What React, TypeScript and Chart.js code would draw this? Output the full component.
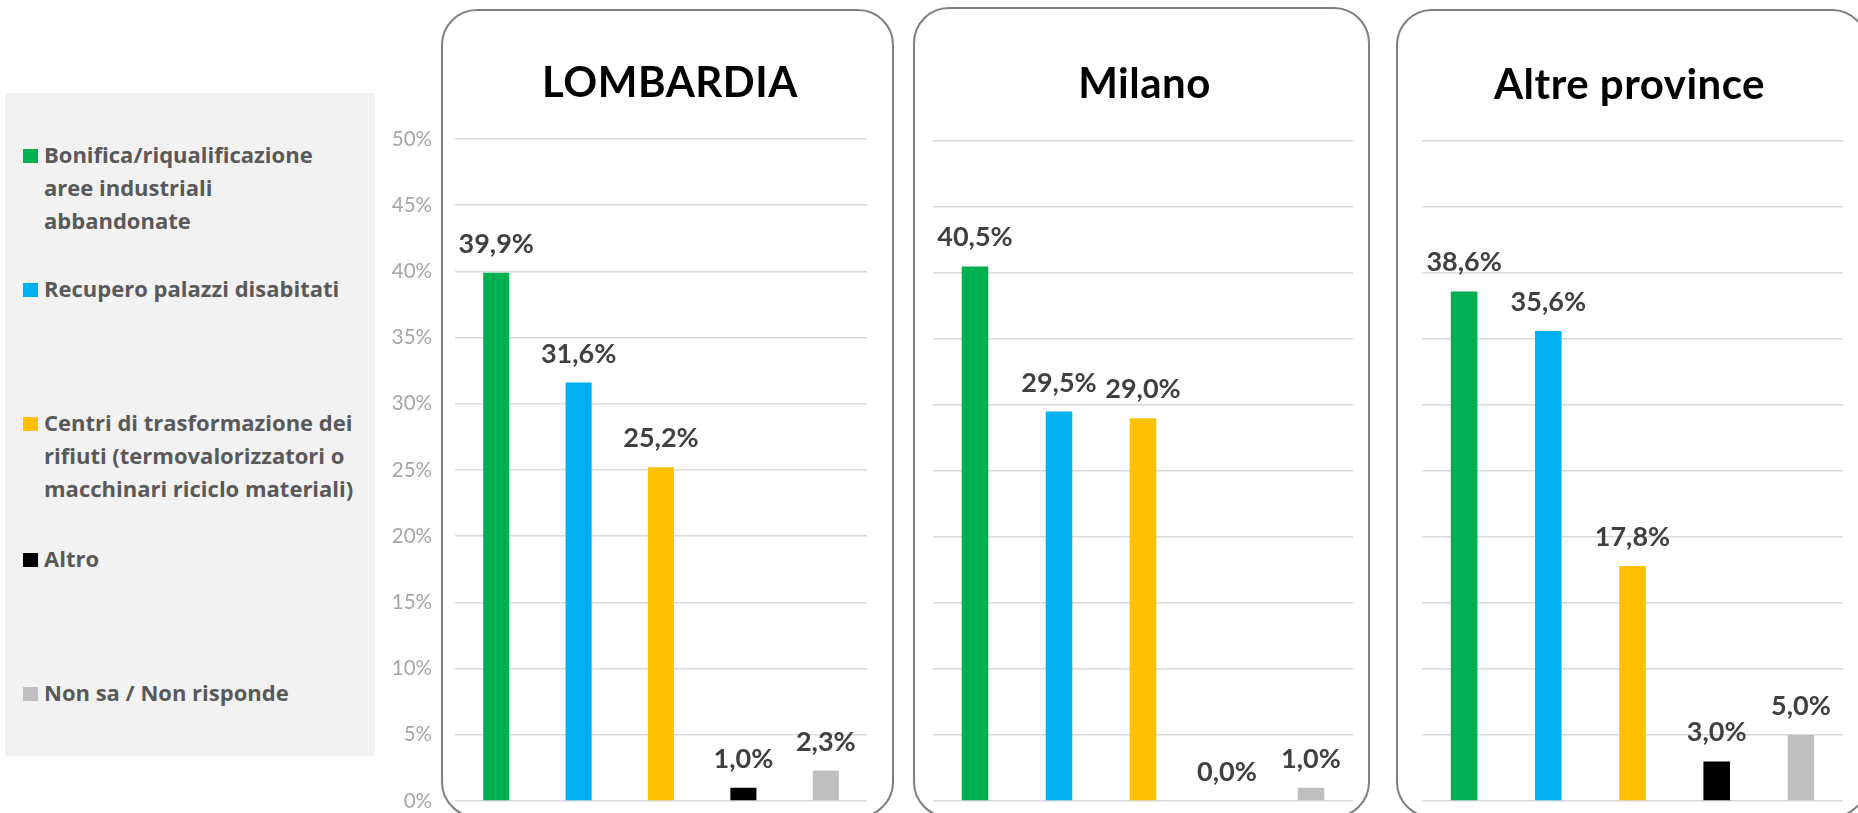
import React, { useEffect, useRef } from "react";
import { Chart, registerables } from "chart.js";

Chart.register(...registerables);

// ---------- DATA ----------
const categories = [
  "Bonifica/riqualificazione aree industriali abbandonate",
  "Recupero palazzi disabitati",
  "Centri di trasformazione dei rifiuti (termovalorizzatori o macchinari riciclo materiali)",
  "Altro",
  "Non sa / Non risponde",
];
const legendLines = [
  ["Bonifica/riqualificazione", "aree industriali", "abbandonate"],
  ["Recupero palazzi disabitati"],
  ["Centri di trasformazione dei", "rifiuti (termovalorizzatori o", "macchinari riciclo materiali)"],
  ["Altro"],
  ["Non sa / Non risponde"],
];
const panelTitles = ["LOMBARDIA", "Milano", "Altre province"];
const lombardiaValues = [39.9, 31.6, 25.2, 1.0, 2.3];
const milanoValues = [40.5, 29.5, 29.0, 0.0, 1.0];
const altreProvinceValues = [38.6, 35.6, 17.8, 3.0, 5.0];
const yTickValues = [0, 5, 10, 15, 20, 25, 30, 35, 40, 45, 50];
const yTickLabels = ["0%", "5%", "10%", "15%", "20%", "25%", "30%", "35%", "40%", "45%", "50%"];

// ---------- STYLE ----------
const barColors = ["#00B050", "#00B0F0", "#FFC000", "#000000", "#BFBFBF"];
const FONT = "Lato, 'Open Sans', sans-serif";
const LEGEND_FONT = "'Open Sans', Lato, sans-serif";

const valueLabelPlugin = {
  id: "valueLabels",
  afterDatasetsDraw(chart: any) {
    const ctx = chart.ctx;
    const meta = chart.getDatasetMeta(0);
    const data = chart.data.datasets[0].data;
    ctx.save();
    ctx.font = `bold 27px ${FONT}`;
    ctx.fillStyle = "#404040";
    ctx.textAlign = "center";
    ctx.textBaseline = "alphabetic";
    meta.data.forEach((el: any, i: number) => {
      const v = data[i] as number;
      ctx.fillText(v.toFixed(1).replace(".", ",") + "%", el.x, el.y - 20);
    });
    ctx.restore();
  },
};

const panelTitlePlugin = {
  id: "panelTitle",
  afterDraw(chart: any, _args: any, opts: any) {
    if (!opts || !opts.text) return;
    const ctx = chart.ctx;
    ctx.save();
    ctx.font = `bold 42px ${FONT}`;
    try {
      (ctx as any).letterSpacing = "0.5px";
    } catch (e) {}
    ctx.fillStyle = "#000000";
    ctx.textAlign = "center";
    ctx.textBaseline = "alphabetic";
    ctx.fillText(opts.text, opts.x, opts.y);
    ctx.restore();
  },
};

type PanelProps = {
  values: number[];
  title: string;
  showAxis: boolean;
  left: number;
  width: number;
  pad: { left: number; right: number; top: number; bottom: number };
  titleX: number;
  titleY: number;
};

function BarPanel({ values, title, showAxis, left, width, pad, titleX, titleY }: PanelProps) {
  const ref = useRef<HTMLCanvasElement>(null);
  useEffect(() => {
    if (!ref.current) return;
    const chart = new Chart(ref.current, {
      type: "bar",
      data: {
        labels: categories,
        datasets: [
          {
            data: values,
            backgroundColor: barColors,
            barPercentage: 0.316,
            categoryPercentage: 1,
          },
        ],
      },
      options: {
        animation: false,
        responsive: false,
        maintainAspectRatio: false,
        layout: { padding: pad },
        plugins: {
          legend: { display: false },
          tooltip: { enabled: false },
          title: { display: false },
          // @ts-ignore
          panelTitle: { text: title, x: titleX, y: titleY },
        },
        scales: {
          x: { display: false },
          y: {
            min: 0,
            max: 50,
            afterBuildTicks: (scale: any) => {
              scale.ticks = yTickValues.map((v) => ({ value: v }));
            },
            afterFit: (scale: any) => {
              if (showAxis) scale.width = 75;
              scale.paddingTop = 0;
              scale.paddingBottom = 0;
            },
            ticks: {
              display: showAxis,
              padding: 23,
              color: "#A6A6A6",
              font: { family: FONT, size: 20.5 },
              callback: (v: any) => yTickLabels[yTickValues.indexOf(Number(v))] ?? "",
            },
            grid: { color: "#D9D9D9", lineWidth: 1.5, drawTicks: false },
            border: { display: false },
          },
        },
      },
      plugins: [valueLabelPlugin, panelTitlePlugin],
    });
    return () => chart.destroy();
  }, []);
  return (
    <canvas
      ref={ref}
      width={width}
      height={813}
      style={{ position: "absolute", left, top: 0, width, height: 813 }}
    />
  );
}

const legendBaselines = [163, 297, 431, 567, 701];

export default function App() {
  const boxStyle = (left: number, top: number, right: number): React.CSSProperties => ({
    position: "absolute",
    left,
    top,
    width: right - left,
    height: 818 - top,
    border: "2px solid #7F7F7F",
    borderRadius: 36,
    boxSizing: "border-box",
    background: "#FFFFFF",
  });
  return (
    <div
      style={{
        position: "fixed",
        left: 0,
        top: 0,
        width: 1858,
        height: 813,
        overflow: "hidden",
        background: "#FFFFFF",
        fontFamily: FONT,
      }}
    >
      {/* Legend */}
      <div
        style={{
          position: "absolute",
          left: 5,
          top: 93,
          width: 370,
          height: 663,
          background: "#F2F2F2",
        }}
      />
      {legendLines.map((lines, i) => (
        <div
          key={i}
          title={categories[i]}
          style={{
            position: "absolute",
            left: 44,
            top: legendBaselines[i] - 25.3,
            fontFamily: LEGEND_FONT,
            fontSize: 22,
            lineHeight: "33px",
            fontWeight: 700,
            color: "#595959",
            whiteSpace: "nowrap",
          }}
        >
          <span
            style={{
              position: "absolute",
              left: -21,
              top: 11.3,
              width: 15,
              height: 14,
              background: barColors[i],
            }}
          />
          {lines.map((l, j) => (
            <div key={j}>{l}</div>
          ))}
        </div>
      ))}

      {/* Boxes */}
      <div style={boxStyle(441, 9, 894)} />
      <div style={boxStyle(913, 7, 1370)} />
      <div style={boxStyle(1396, 9, 1868)} />

      <BarPanel
        values={lombardiaValues}
        title={panelTitles[0]}
        showAxis={true}
        left={380}
        width={513}
        pad={{ left: 0, right: 26, top: 139, bottom: 12 }}
        titleX={290}
        titleY={97}
      />
      <BarPanel
        values={milanoValues}
        title={panelTitles[1]}
        showAxis={false}
        left={914}
        width={455}
        pad={{ left: 19, right: 16, top: 141, bottom: 12 }}
        titleX={230.5}
        titleY={98}
      />
      <BarPanel
        values={altreProvinceValues}
        title={panelTitles[2]}
        showAxis={false}
        left={1397}
        width={461}
        pad={{ left: 25, right: 15, top: 141, bottom: 12 }}
        titleX={232.5}
        titleY={99}
      />
    </div>
  );
}
